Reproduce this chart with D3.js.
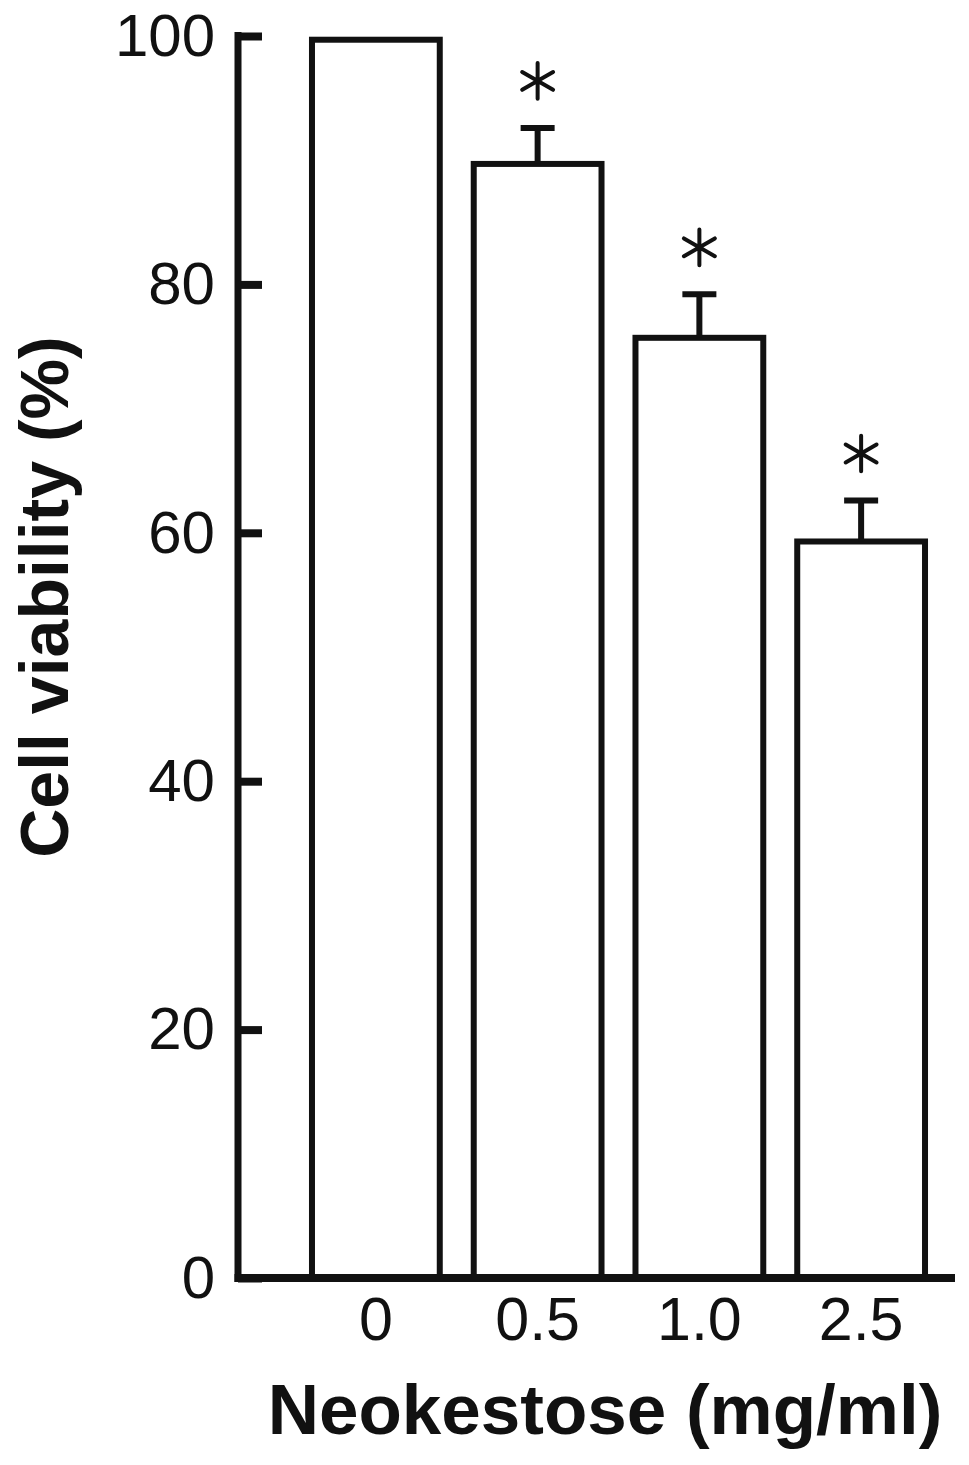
<!DOCTYPE html>
<html lang="en">
<head>
<meta charset="UTF-8">
<title>Cell viability - Neokestose</title>
<style>
  body { margin: 0; background: #fff; }
  text { font-family: "Liberation Sans", Arial, sans-serif; fill: #111; }
</style>
</head>
<body>
<svg width="969" height="1465"></svg>
<script src="https://d3js.org/d3.v7.min.js"></script>
<script>
// data
var doses = ["0", "0.5", "1.0", "2.5"];
var viability = [99.7, 89.7, 75.7, 59.3];
var errUpper = [null, 92.6, 79.2, 62.6];
var significant = [false, true, true, true];
var yTicks = [0, 20, 40, 60, 80, 100];

var svg = d3.select("svg");
var ink = "#111";

var y = d3.scaleLinear().domain([0, 100]).range([1278, 36]);
var x = d3.scaleBand().domain(doses).range([295, 942])
    .paddingInner(0.21).paddingOuter(0.105);

var axisX = 238, rightEdge = 955;

// bars
var bars = doses.map(function(d, i) {
  return { dose: d, v: viability[i], e: errUpper[i], sig: significant[i] };
});

svg.append("g").selectAll("rect")
  .data(bars)
  .enter().append("rect")
  .attr("x", d => x(d.dose))
  .attr("y", d => y(d.v))
  .attr("width", x.bandwidth())
  .attr("height", d => y(0) - y(d.v))
  .attr("fill", "#fff")
  .attr("stroke", ink)
  .attr("stroke-width", 6);

// error bars (upper only)
var eb = svg.append("g").selectAll("g")
  .data(bars.filter(d => d.e != null))
  .enter().append("g");

eb.append("line")
  .attr("x1", d => x(d.dose) + x.bandwidth() / 2)
  .attr("x2", d => x(d.dose) + x.bandwidth() / 2)
  .attr("y1", d => y(d.v))
  .attr("y2", d => y(d.e))
  .attr("stroke", ink)
  .attr("stroke-width", 6);

eb.append("line")
  .attr("x1", d => x(d.dose) + x.bandwidth() / 2 - 17)
  .attr("x2", d => x(d.dose) + x.bandwidth() / 2 + 17)
  .attr("y1", d => y(d.e))
  .attr("y2", d => y(d.e))
  .attr("stroke", ink)
  .attr("stroke-width", 6);

// significance asterisks
svg.append("g").selectAll("path")
  .data(bars.filter(d => d.sig))
  .enter().append("path")
  .attr("d", d3.symbol().type(d3.symbolAsterisk).size(900))
  .attr("transform", d => `translate(${x(d.dose) + x.bandwidth() / 2},${y(d.e) - 47})`)
  .attr("fill", "none")
  .attr("stroke", ink)
  .attr("stroke-width", 4)
  .attr("stroke-linecap", "round");

// y axis, ticks pointing inward
var gy = svg.append("g")
  .attr("transform", `translate(${axisX},0)`)
  .call(d3.axisLeft(y).tickValues(yTicks).tickSizeInner(-24).tickSizeOuter(0).tickPadding(23));
gy.select(".domain").attr("stroke", ink).attr("stroke-width", 7)
  .attr("d", `M0,${y(100) - 4}V${y(0) + 4}`);
gy.selectAll(".tick line").attr("stroke", ink).attr("stroke-width", 8);
gy.selectAll(".tick text")
  .style("font-family", "'Liberation Sans', Arial, sans-serif")
  .style("font-size", "60px").attr("fill", ink);

// x axis
var gx = svg.append("g")
  .attr("transform", `translate(0,${y(0)})`)
  .call(d3.axisBottom(x).tickSize(0).tickPadding(19));
gx.select(".domain").remove();
gx.selectAll(".tick text")
  .style("font-family", "'Liberation Sans', Arial, sans-serif")
  .style("font-size", "61px").attr("fill", ink);

svg.append("line")
  .attr("x1", axisX - 3.5).attr("x2", rightEdge)
  .attr("y1", y(0)).attr("y2", y(0))
  .attr("stroke", ink).attr("stroke-width", 8);

// axis titles
svg.append("text")
  .attr("x", 605).attr("y", 1434)
  .attr("text-anchor", "middle")
  .style("font-size", "71px").style("font-weight", "bold")
  .text("Neokestose (mg/ml)");

svg.append("text")
  .attr("transform", "translate(68,597) rotate(-90)")
  .attr("text-anchor", "middle")
  .style("font-size", "68px").style("font-weight", "bold")
  .text("Cell viability (%)");
</script>
</body>
</html>
